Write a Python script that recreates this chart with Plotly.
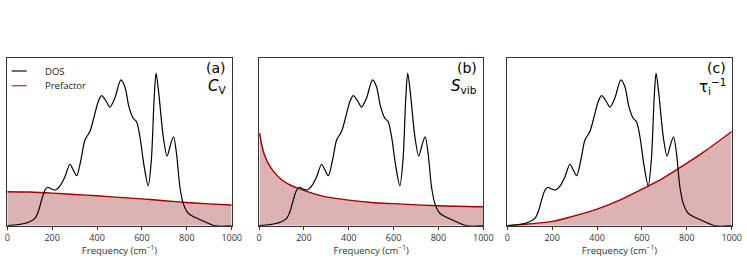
import plotly.graph_objects as go

# ---- data ----
freq_dos = [0, 49, 94, 123, 138, 153, 168, 180, 197, 215, 235, 257, 279, 294, 309, 328, 346, 368, 387,
            405, 420, 442, 457, 479, 506, 524, 542, 561, 576, 591, 610, 628, 642, 654, 663, 675, 695,
            712, 729, 741, 754, 769, 784, 806, 836, 880, 924, 1000]
dos = [0.0, 0.006, 0.02, 0.043, 0.082, 0.151, 0.209, 0.225, 0.215, 0.209, 0.233, 0.287, 0.36, 0.326,
       0.293, 0.385, 0.502, 0.551, 0.639, 0.726, 0.762, 0.726, 0.694, 0.746, 0.854, 0.814, 0.697, 0.629,
       0.609, 0.521, 0.346, 0.233, 0.385, 0.736, 0.893, 0.776, 0.521, 0.408, 0.483, 0.521, 0.424, 0.228,
       0.131, 0.073, 0.049, 0.023, 0.0, 0.0]

freq_cv = [0, 100, 200, 300, 400, 500, 600, 700, 800, 900, 1000]
pref_cv = [0.199, 0.197, 0.191, 0.183, 0.175, 0.166, 0.157, 0.146, 0.136, 0.128, 0.121]

freq_s = [3, 12, 27, 49, 71, 101, 131, 200, 280, 400, 502, 600, 800, 1000]
pref_s = [0.542, 0.474, 0.405, 0.347, 0.308, 0.269, 0.244, 0.207, 0.175, 0.150, 0.136, 0.129, 0.117, 0.111]

freq_tau = [0, 116, 200, 264, 400, 488, 600, 695, 800, 889, 1000]
pref_tau = [0.0, 0.012, 0.025, 0.045, 0.097, 0.142, 0.214, 0.279, 0.366, 0.444, 0.552]

panel_labels = ["(a)", "(b)", "(c)"]
quantity_labels = ["<i>C</i><sub>V</sub>", "<i>S</i><sub>vib</sub>", "τ<sub>i</sub><sup>−1</sup>"]
legend_labels = ["DOS", "Prefactor"]
tick_vals = [0, 200, 400, 600, 800, 1000]
x_title = "Frequency (cm<sup>−1</sup>)"

W, H = 747, 259
panels_px = [(7.3, 231.7), (259.0, 483.3), (507.3, 731.7)]
y_top_px, y_bot_px = 57.5, 225.7
y_max = 0.985

RED = "#a00000"
FILL = "rgba(139,0,0,0.3)"
FONT = "Open Sans"
TXT = "#333333"

fig = go.Figure()
prefs = [(freq_cv, pref_cv), (freq_s, pref_s), (freq_tau, pref_tau)]
for i, (fx, fy) in enumerate(prefs):
    xa = "x" if i == 0 else f"x{i+1}"
    ya = "y" if i == 0 else f"y{i+1}"
    fig.add_trace(go.Scatter(x=fx, y=fy, mode="lines", line=dict(color=RED, width=1.4, shape="spline", smoothing=0.8),
                             fill="tozeroy", fillcolor=FILL, xaxis=xa, yaxis=ya, showlegend=False, hoverinfo="skip"))
    fig.add_trace(go.Scatter(x=freq_dos, y=dos, mode="lines", line=dict(color="black", width=1.2, shape="spline", smoothing=0.8),
                             xaxis=xa, yaxis=ya, showlegend=False, hoverinfo="skip"))

yd = [1 - y_bot_px / H, 1 - y_top_px / H]
layout = dict(width=W, height=H, margin=dict(l=0, r=0, t=0, b=0), plot_bgcolor="white", paper_bgcolor="white",
              font=dict(family=FONT, color=TXT), showlegend=False)
annotations = []
shapes = []
for i, (x0, x1) in enumerate(panels_px):
    sfx = "" if i == 0 else str(i + 1)
    layout["xaxis" + sfx] = dict(domain=[x0 / W, x1 / W], range=[0, 1000], anchor="y" + sfx, showgrid=False,
                                 zeroline=False, showline=True, mirror=True, linecolor="#333333", linewidth=1,
                                 ticks="outside", ticklen=3, tickcolor="#333333", tickvals=tick_vals,
                                 tickfont=dict(size=9, family=FONT, color=TXT), automargin=False,
                                 title=dict(text=x_title, font=dict(size=9.5, family=FONT, color=TXT), standoff=2))
    layout["yaxis" + sfx] = dict(domain=yd, range=[0, y_max], anchor="x" + sfx, showgrid=False, zeroline=False,
                                 showline=True, mirror=True, linecolor="#333333", linewidth=1, showticklabels=False,
                                 ticks="", automargin=False)
    annotations.append(dict(text=panel_labels[i], x=(x1 - 4) / W, y=1 - 67.5 / H, xref="paper", yref="paper",
                            xanchor="right", yanchor="middle", showarrow=False,
                            font=dict(size=14, family="DejaVu Sans", color="black")))
    annotations.append(dict(text=quantity_labels[i], x=(x1 - 4) / W, y=1 - 86 / H, xref="paper", yref="paper",
                            xanchor="right", yanchor="middle", showarrow=False,
                            font=dict(size=15, family="DejaVu Sans", color="black")))

# legend (panel a, upper left)
leg_colors = ["#222222", "#c04040"]
leg_y = [71.0, 85.7]
for lab, col, ly in zip(legend_labels, leg_colors, leg_y):
    shapes.append(dict(type="line", xref="paper", yref="paper", x0=11.7 / W, x1=26.7 / W, y0=1 - ly / H, y1=1 - ly / H,
                       line=dict(color=col, width=1.3)))
    annotations.append(dict(text=lab, x=43 / W, y=1 - ly / H, xref="paper", yref="paper", xanchor="left",
                            yanchor="middle", showarrow=False, font=dict(size=9.5, family=FONT, color="#222222")))
layout["annotations"] = annotations
layout["shapes"] = shapes
fig.update_layout(**layout)
fig.write_html("out.html", config={"displayModeBar": False},
               post_script="document.body.style.margin='0px';document.body.style.overflow='hidden';")
